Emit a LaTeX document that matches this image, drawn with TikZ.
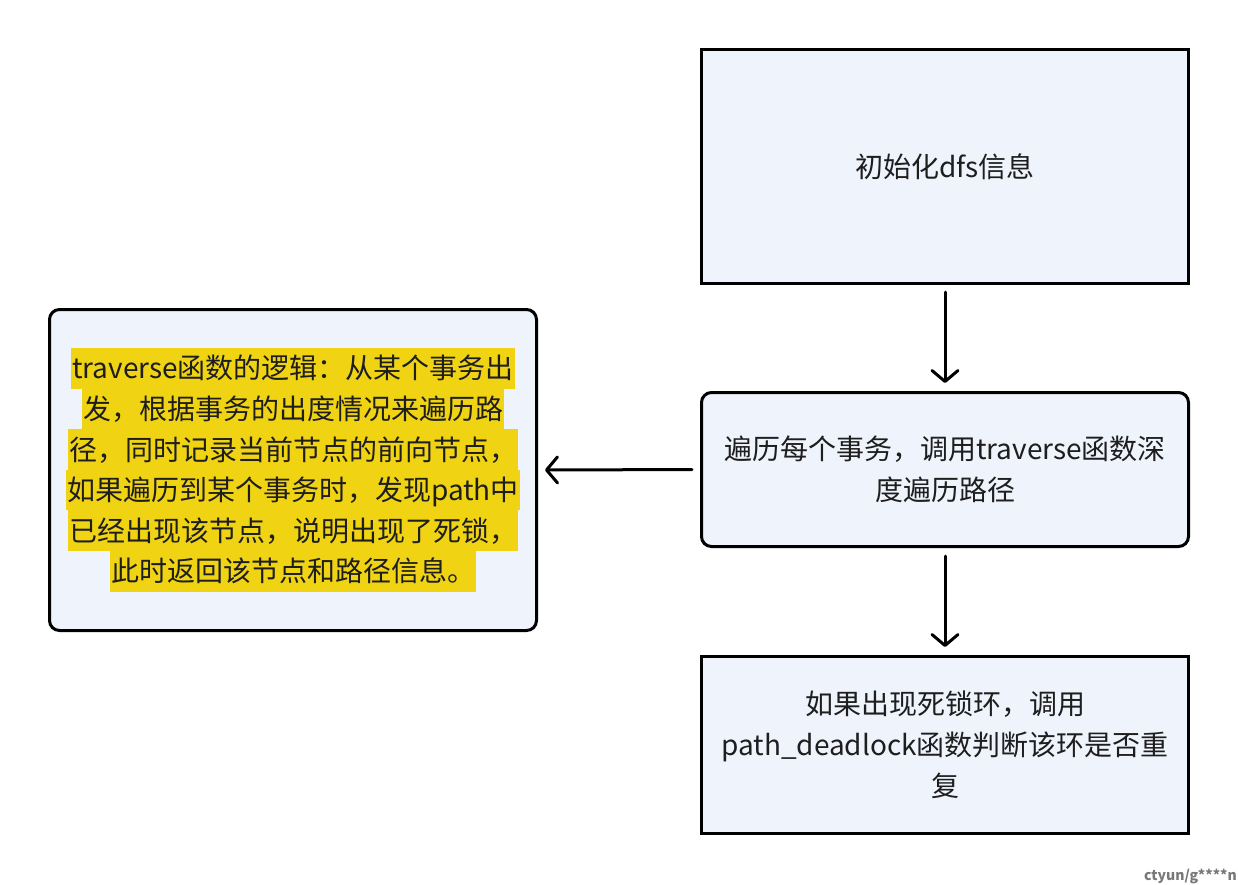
\documentclass[tikz,border=0pt]{standalone}
\usepackage{fontspec}
\setmainfont{Noto Sans CJK SC}
\usetikzlibrary{arrows.meta}
\definecolor{boxfill}{RGB}{239,244,252}
\definecolor{hl}{RGB}{240,212,20}
\definecolor{ink}{RGB}{30,30,30}
\definecolor{wm}{RGB}{120,120,120}
\begin{document}
\begin{tikzpicture}[x=1pt,y=-1pt,
  every node/.style={text=ink},
  sqbox/.style={draw=black,fill=boxfill,line width=3pt,inner sep=0pt,
    font=\fontsize{28}{41}\selectfont,align=center},
  rbox/.style={sqbox,rounded corners=10pt},
  hline/.style={fill=hl,anchor=base,inner xsep=1pt,inner ysep=0pt,
    text height=30.9pt,text depth=9.7pt,font=\fontsize{28}{41}\selectfont},
  flow/.style={draw=black,line width=3pt,line cap=round,line join=round,
    -{Straight Barb[length=11pt,width=26pt,line width=3pt,round]}}]
\useasboundingbox (0,0) rectangle (1238,884);
\node[sqbox,minimum width=487pt,minimum height=234pt] (init) at (945,166.5) {初始化dfs信息};
\node[rbox,minimum width=487pt,minimum height=154pt] (loop) at (945,469.5) {遍历每个事务，调用traverse函数深\\度遍历路径};
\node[sqbox,minimum width=487pt,minimum height=177pt] (check) at (945,745) {如果出现死锁环，调用\\path\_deadlock函数判断该环是否重\\复};
\node[rbox,minimum width=487pt,minimum height=321pt] (logic) at (293,470) {};
\node[hline] (l1) at (293,378.9) {traverse函数的逻辑：从某个事务出};
\node[hline] (l2) at (293,419.5) {发，根据事务的出度情况来遍历路};
\node[hline] (l3) at (293,460.1) {径，同时记录当前节点的前向节点，};
\node[hline] (l4) at (293,500.7) {如果遍历到某个事务时，发现path中};
\node[hline] (l5) at (293,541.3) {已经出现该节点，说明出现了死锁，};
\node[hline] (l6) at (293,581.9) {此时返回该节点和路径信息。};
\draw[flow,shorten <=7pt,shorten >=8pt] (init.south) -- (loop.north);
\draw[flow,shorten <=8pt,shorten >=8pt] (loop.south) -- (check.north);
\draw[flow,shorten <=8pt,shorten >=7pt] (loop.west) -- (logic.east);
\node[anchor=base east,text=wm,font=\fontsize{14}{16}\selectfont\bfseries,inner sep=0pt] (wmark) at (1237,880) {ctyun/g****n};
\end{tikzpicture}
\end{document}
